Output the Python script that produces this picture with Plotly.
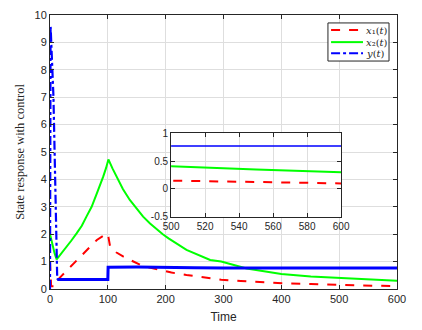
import plotly.graph_objects as go

# ---- data ----
t_x1 = [0, 2, 10, 12, 20, 35, 58, 81, 99, 101, 104, 115, 127, 141, 156, 172, 190, 210, 236, 277, 296, 330, 365, 410, 451, 500, 550, 600]
x1 = [1.0, 0.1, 0.1, 0.3, 0.48, 0.81, 1.3, 1.79, 2.03, 1.9, 1.54, 1.33, 1.18, 1.02, 0.88, 0.78, 0.69, 0.6, 0.51, 0.39, 0.34, 0.29, 0.24, 0.2, 0.18, 0.15, 0.12, 0.1]

t_x2 = [0, 4, 8, 11.5, 20, 29, 37, 46, 55, 63, 72, 81, 87, 92, 97, 101, 108, 115, 126, 138, 150, 161, 173, 184, 195, 205, 236, 277, 296, 340, 365, 400, 451, 500, 550, 600]
x2 = [2.0, 1.6, 1.3, 1.08, 1.3, 1.54, 1.77, 2.03, 2.31, 2.64, 3.0, 3.49, 3.8, 4.1, 4.42, 4.73, 4.4, 4.1, 3.65, 3.25, 2.93, 2.64, 2.39, 2.18, 2.0, 1.85, 1.43, 1.06, 1.0, 0.75, 0.66, 0.55, 0.46, 0.4, 0.35, 0.3]

t_y = [0, 1, 6, 9, 11.5, 12.5, 100, 100.5, 150, 250, 300, 600]
y = [0, 9.6, 7.0, 3.3, 1.1, 0.35, 0.35, 0.79, 0.8, 0.78, 0.77, 0.77]

x_ticks = [0, 100, 200, 300, 400, 500, 600]
y_ticks = list(range(0, 11))
inset_x_ticks = [500, 520, 540, 560, 580, 600]
inset_y_ticks = [-0.5, 0, 0.5, 1]
inset_y_text = ["-0.5", "0", "0.5", "1"]

legend_names = ["<i>x</i>₁(<i>t</i>)", "<i>x</i>₂(<i>t</i>)", "<i>y</i>(<i>t</i>)"]

RED = "#ff0000"
GREEN = "#00ff00"
BLUE = "#0000ff"
AX = "#262626"
GRID = "#dedede"

fig = go.Figure()

# main axes
fig.add_trace(go.Scatter(x=t_x1, y=x1, mode="lines", line=dict(color=RED, dash="dash", width=2)))
fig.add_trace(go.Scatter(x=t_x2, y=x2, mode="lines", line=dict(color=GREEN, width=2)))
# y(t): the fast transient is dash-dot, the chattering tail looks like a thick band
k = 5
fig.add_trace(go.Scatter(x=t_y[:k + 1], y=y[:k + 1], mode="lines",
                         line=dict(color=BLUE, dash="dashdot", width=2.2)))
fig.add_trace(go.Scatter(x=t_y[k:], y=y[k:], mode="lines", line=dict(color=BLUE, width=3)))

# inset
fig.add_trace(go.Scatter(x=t_x1, y=x1, mode="lines", xaxis="x2", yaxis="y2",
                         line=dict(color=RED, dash="dash", width=2)))
fig.add_trace(go.Scatter(x=t_x2, y=x2, mode="lines", xaxis="x2", yaxis="y2",
                         line=dict(color=GREEN, width=2)))
fig.add_trace(go.Scatter(x=t_y, y=y, mode="lines", xaxis="x2", yaxis="y2",
                         line=dict(color=BLUE, width=1.5)))

# legend box drawn by hand (MATLAB style compact legend)
fig.add_shape(type="rect", xref="paper", yref="paper", x0=0.801, x1=0.977, y0=0.832, y1=0.971,
              line=dict(color=AX, width=1), fillcolor="white", layer="above")
for yy, col, dash, name in zip([0.945, 0.901, 0.860], [RED, GREEN, BLUE],
                               ["dash", "solid", "dashdot"], legend_names):
    fig.add_shape(type="line", xref="paper", yref="paper", x0=0.810, x1=0.902, y0=yy, y1=yy,
                  line=dict(color=col, dash=dash, width=2), layer="above")
    fig.add_annotation(xref="paper", yref="paper", x=0.906, y=yy, text=name, showarrow=False,
                       xanchor="left", yanchor="middle",
                       font=dict(family="DejaVu Serif, Liberation Serif, serif", size=10, color=AX))

axis_common = dict(showgrid=True, gridcolor=GRID, gridwidth=1, zeroline=False,
                   showline=True, linecolor=AX, linewidth=1, mirror="ticks",
                   ticks="inside", ticklen=4, tickcolor=AX, automargin=False,
                   tickfont=dict(family="Liberation Sans, Arial", size=11, color=AX))
inset_font = dict(family="Liberation Sans, Arial", size=10, color=AX)

fig.update_layout(
    width=414, height=322,
    margin=dict(l=42, r=25, t=7, b=41),
    paper_bgcolor="white", plot_bgcolor="white",
    showlegend=False,
    xaxis=dict(range=[0, 600], tickvals=x_ticks, domain=[0, 1], anchor="y",
               title=dict(text="Time", standoff=8,
                          font=dict(family="Liberation Sans, Arial", size=12, color=AX)),
               **axis_common),
    yaxis=dict(range=[0, 10], tickvals=y_ticks, domain=[0, 1], anchor="x",
               title=dict(text="State response with control", standoff=7,
                          font=dict(family="Liberation Serif, serif", size=12.5, color=AX)),
               **axis_common),
    xaxis2=dict(range=[500, 600], tickvals=inset_x_ticks, domain=[0.349, 0.839], anchor="y2",
                **{**axis_common, "tickfont": inset_font}),
    yaxis2=dict(range=[-0.5, 1], tickvals=inset_y_ticks, ticktext=inset_y_text,
                domain=[0.263, 0.569], anchor="x2",
                **{**axis_common, "tickfont": inset_font}),
)

fig.write_html("out.html")
